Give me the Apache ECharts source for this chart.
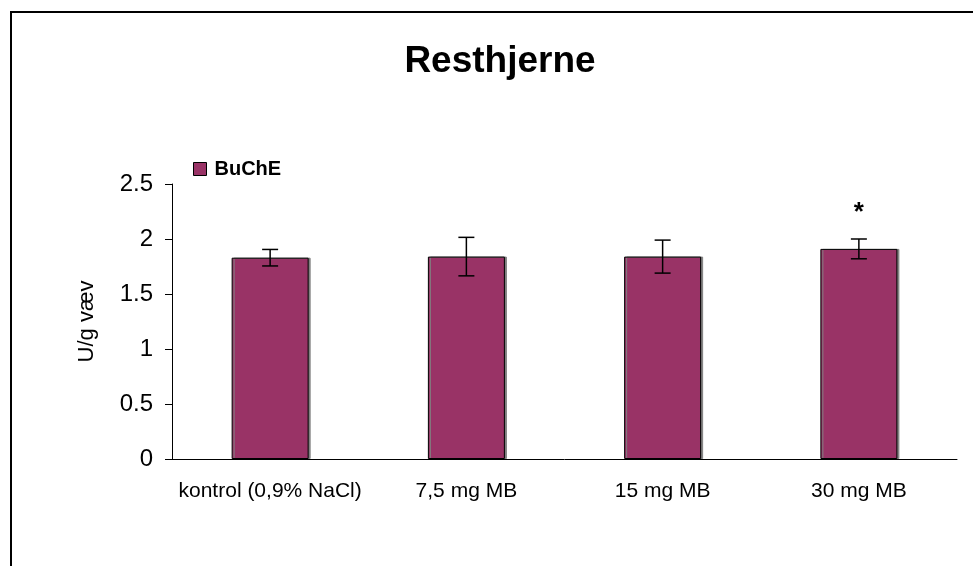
<!DOCTYPE html>
<html>
<head>
<meta charset="utf-8">
<script src="https://cdn.jsdelivr.net/npm/echarts@6/dist/echarts.min.js"></script>
<style>
html,body{margin:0;padding:0;background:#fff;}
#chart{width:973px;height:566px;}
</style>
</head>
<body>
<div id="chart"></div>
<script>
const categories = ['kontrol (0,9% NaCl)', '7,5 mg MB', '15 mg MB', '30 mg MB'];
const means = [1.83, 1.84, 1.84, 1.91];
const errors = [0.075, 0.175, 0.15, 0.09];
const significance = ['', '', '', '*'];
const seriesName = 'BuChE';
const yMin = 0, yMax = 2.5, yInterval = 0.5;

const FONT = 'Liberation Sans, Arial, sans-serif';
const chart = echarts.init(document.getElementById('chart'), null, {renderer: 'canvas'});

const errData = means.map((m, i) => [i, m - errors[i], m + errors[i], significance[i]]);

chart.setOption({
  animation: false,
  backgroundColor: '#fff',
  title: {
    text: 'Resthjerne',
    left: 495,
    textAlign: 'center',
    top: 38,
    textStyle: {fontFamily: FONT, fontWeight: 'bold', fontSize: 37, color: '#000'}
  },
  graphic: [{
    type: 'rect',
    shape: {x: 11, y: 12, width: 1000, height: 600},
    style: {fill: 'none', stroke: '#000', lineWidth: 2},
    silent: true
  }],
  legend: {
    data: [seriesName],
    left: 193,
    top: 159,
    padding: 0,
    icon: 'rect',
    itemWidth: 13,
    itemHeight: 13,
    itemGap: 8,
    textStyle: {fontFamily: FONT, fontWeight: 'bold', fontSize: 20, color: '#000', padding: [0,0,0,3]},
    itemStyle: {borderColor: '#000', borderWidth: 1, shadowBlur: 0, shadowOffsetX: 0, shadowColor: 'transparent'}
  },
  grid: {left: 172, right: 16, top: 184, bottom: 107, containLabel: false},
  xAxis: {
    type: 'category',
    data: categories,
    axisLine: {lineStyle: {color: '#000', width: 1}},
    axisTick: {show: false},
    axisLabel: {fontFamily: FONT, fontSize: 21, color: '#000', margin: 22, interval: 0}
  },
  yAxis: {
    type: 'value',
    min: yMin, max: yMax, interval: yInterval,
    name: 'U/g væv',
    nameLocation: 'middle',
    nameGap: 74,
    nameTextStyle: {fontFamily: FONT, fontSize: 22, color: '#000'},
    axisLine: {show: true, lineStyle: {color: '#000', width: 1}},
    axisTick: {show: true, inside: false, length: 7, lineStyle: {color: '#000'}},
    axisLabel: {fontFamily: FONT, fontSize: 24, color: '#000', margin: 19},
    splitLine: {show: false}
  },
  series: [{
    name: seriesName,
    type: 'bar',
    data: means,
    barWidth: 77,
    itemStyle: {
      color: '#993366', borderColor: '#000', borderWidth: 1,
      shadowColor: '#808080', shadowOffsetX: 2, shadowOffsetY: 0, shadowBlur: 0
    }
  }, {
    name: 'err',
    type: 'custom',
    data: errData,
    z: 10,
    renderItem: function (params, api) {
      const x = api.coord([api.value(0), 0])[0];
      const lo = api.coord([api.value(0), api.value(1)])[1];
      const hi = api.coord([api.value(0), api.value(2)])[1];
      const capHalf = 8;
      const st = {stroke: '#000', lineWidth: 1.5};
      const children = [
        {type: 'line', shape: {x1: x, y1: lo, x2: x, y2: hi}, style: st},
        {type: 'line', shape: {x1: x - capHalf, y1: lo, x2: x + capHalf, y2: lo}, style: st},
        {type: 'line', shape: {x1: x - capHalf, y1: hi, x2: x + capHalf, y2: hi}, style: st}
      ];
      const sig = significance[params.dataIndex];
      if (sig) {
        children.push({
          type: 'text',
          style: {x: x, y: hi - 26, text: sig, textAlign: 'center', textVerticalAlign: 'middle',
                  font: 'bold 26px ' + FONT, fill: '#000'}
        });
      }
      return {type: 'group', children: children};
    }
  }]
});
</script>
</body>
</html>
